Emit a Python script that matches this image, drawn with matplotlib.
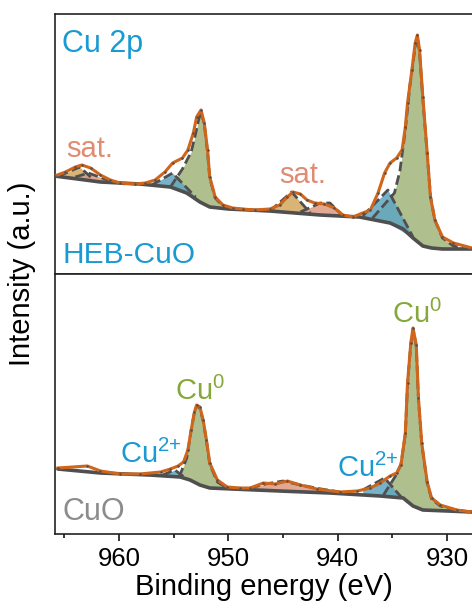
import numpy as np
import matplotlib
matplotlib.use('Agg')
import matplotlib.pyplot as plt

plt.rcParams['font.family'] = ['Liberation Sans', 'DejaVu Sans']
plt.rcParams['mathtext.fontset'] = 'custom'
plt.rcParams['mathtext.rm'] = 'Liberation Sans'
plt.rcParams['mathtext.default'] = 'regular'

# ---- HEB-CuO (top) : intensity in arbitrary units ----
heb_E = [965.9, 964.9, 964.0, 963.4, 962.6, 961.7, 960.8, 959.9, 958.5, 957.6, 956.7,
         955.8, 955.1, 954.2, 953.7, 953.2, 952.9, 952.5, 952.2, 951.9, 951.7, 951.2,
         950.5, 949.6, 948.7, 947.6, 946.2, 945.3, 944.6, 944.1, 943.4, 942.8, 942.1,
         941.2, 940.3, 939.5, 938.6, 937.7, 937.0, 936.3, 935.7, 935.2, 934.6, 934.1,
         933.8, 933.6, 933.2, 932.9, 932.7, 932.5, 932.2, 931.8, 931.5, 931.1, 930.4,
         929.4, 927.7]
heb_I = [98, 102, 107, 109, 106, 99, 94, 91, 90, 91, 94,
         102, 111, 116, 124, 141, 157, 164, 151, 124, 97, 77,
         69, 66, 65, 64, 65, 69, 77, 82, 80, 74, 71,
         70, 66, 59, 57, 61, 64, 81, 101, 111, 116, 124,
         147, 171, 204, 231, 239, 224, 177, 121, 77, 54, 37,
         31, 26]
heb_bg_E = [965.9, 961.7, 958.1, 955.3, 953.8, 952.6, 951.7, 950.0, 946.2, 941.6,
            938.0, 935.2, 934.0, 933.1, 932.2, 931.4, 930.4, 927.7]
heb_bg_I = [98, 92, 90, 87, 81, 72, 67, 65, 63, 59, 57, 51, 45, 36, 28, 26, 25, 25]

# fitted components (drawn in this order)
heb_peaks = {
    'sat1_y': ([965.5, 963.6, 962.5], [98, 107, 96]),
    'sat1_p': ([964.0, 962.8, 960.8, 959.5], [97, 101, 93, 90]),
    'cu0_1': ([955.3, 954.2, 953.4, 953.0, 952.7, 952.5, 952.2, 951.9, 951.7, 951.2,
               950.5, 949.6], [87, 105, 122, 140, 155, 162, 150, 122, 96, 76, 68, 65]),
    'cu2_1': ([957.0, 955.1, 953.0], [89, 101, 77]),
    'sat2_y': ([946.2, 944.2, 942.5], [63, 82, 61]),
    'sat2_p': ([943.4, 941.6, 940.7, 939.5], [62, 71, 71, 58]),
    'cu0_2': ([936.8, 934.8, 934.3, 933.8, 933.4, 932.9, 932.7, 932.5, 932.2, 931.8,
               931.5, 931.1, 930.4, 929.4, 928.5], [56, 81, 103, 144, 187, 227, 237, 222,
                                                    175, 120, 78, 54, 36, 28, 26]),
    'cu2_2': ([937.7, 935.4, 933.1], [58, 84, 37]),
}

# ---- CuO (bottom) ----
cuo_E = [965.6, 962.9, 961.7, 959.9, 958.1, 956.2, 955.3, 954.6, 954.1, 953.7, 953.4,
         953.1, 952.9, 952.6, 952.3, 952.0, 951.7, 951.0, 950.1, 948.9, 948.0, 946.8,
         945.7, 944.6, 943.4, 941.9, 939.8, 938.2, 937.0, 936.1, 935.2, 934.6, 934.2,
         933.8, 933.6, 933.3, 933.1, 932.8, 932.6, 932.3, 931.8, 931.4, 930.6, 929.1,
         927.7]
cuo_I = [66, 68, 63, 60, 60, 62, 65, 68, 72, 84, 104,
         122, 129, 127, 114, 94, 71, 54, 47, 46, 46, 51,
         50, 53, 49, 45, 42, 43, 46, 51, 58, 61, 69,
         101, 151, 191, 206, 189, 136, 91, 52, 36, 29, 24,
         22]
cuo_bg_E = [965.6, 961.7, 957.2, 954.4, 953.5, 952.6, 951.7, 949.6, 945.3, 940.7,
            936.1, 934.0, 933.1, 932.2, 927.7]
cuo_bg_I = [65, 61, 59, 57, 54, 49, 46, 45, 43, 41, 38, 36, 28, 24, 22]

cuo_peaks = {
    'cu0_1': ([954.5, 953.8, 953.4, 953.1, 952.9, 952.6, 952.3, 952.0, 951.7, 951.0,
               950.1, 949.0], [57, 76, 104, 122, 128, 126, 113, 93, 70, 52, 46, 45]),
    'cu2_1': ([956.0, 954.9, 953.8], [59, 64, 55]),
    'sat_p': ([948.0, 946.6, 945.0, 943.4, 941.5, 939.8], [46, 50, 53, 49, 45, 42]),
    'cu0_2': ([935.8, 934.7, 934.2, 933.8, 933.6, 933.3, 933.1, 932.8, 932.6, 932.3,
               931.8, 931.4, 930.6, 929.1, 927.9], [39, 58, 70, 100, 150, 190, 205, 188,
                                                    135, 90, 51, 35, 28, 24, 22]),
    'cu2_2': ([937.7, 935.7, 934.1], [44, 56, 36]),
}

fill_col = {'sat1_y': '#d2a85c', 'sat1_p': '#dc9a82', 'cu2_1': '#5ea6c2',
            'cu0_1': '#a3b47a', 'sat2_y': '#d2a85c', 'sat2_p': '#dc9a82',
            'cu0_2': '#a3b47a', 'cu2_2': '#5ea6c2', 'sat_p': '#dc9a82'}

orange = '#d0651c'
dark = '#4f4f4f'


def draw(ax, E, I, bgE, bgI, peaks):
    bgE = np.array(bgE)[::-1]
    bgI = np.array(bgI)[::-1]
    for key, (pe, pi) in peaks.items():
        pe = np.array(pe)
        base = np.interp(pe, bgE, bgI)
        ax.fill_between(pe, base, pi, color=fill_col[key], alpha=0.85, lw=0, zorder=2)
        ax.plot(pe, pi, ls=(0, (3.5, 1.5)), color=dark, lw=2, zorder=3)
    ax.plot(bgE, bgI, color=dark, lw=2.6, zorder=4, solid_capstyle='round')
    ax.plot(E, I, color=orange, lw=2.2, zorder=5)
    ax.plot(E, I, 'o', color=dark, ms=1.8, mew=0, zorder=6)


fig = plt.figure(figsize=(4.72, 6.10), dpi=100)
ax1 = fig.add_axes([55 / 472, (610 - 274) / 610, 417 / 472, 260 / 610])
ax2 = fig.add_axes([55 / 472, (610 - 534) / 610, 417 / 472, 260 / 610])

draw(ax1, heb_E, heb_I, heb_bg_E, heb_bg_I, heb_peaks)
draw(ax2, cuo_E, cuo_I, cuo_bg_E, cuo_bg_I, cuo_peaks)

for ax in (ax1, ax2):
    ax.set_xlim(965.86, 927.7)
    ax.set_ylim(0, 260)
    ax.set_yticks([])
    ax.spines['right'].set_visible(False)
    for s in ('left', 'top', 'bottom'):
        ax.spines[s].set_linewidth(1.2)
        ax.spines[s].set_color('#222222')

ax1.set_xticks([])
ax2.set_xticks([960, 950, 940, 930])
ax2.set_xticks([965, 955, 945, 935], minor=True)
ax2.tick_params(axis='x', which='major', direction='out', length=5, width=1.1,
                labelsize=18.5, pad=4)
ax2.tick_params(axis='x', which='minor', direction='out', length=3, width=1.1)
ax2.set_xlabel('Binding energy (eV)', fontsize=21, labelpad=2)
fig.text(22 / 472, (610 - 274) / 610, 'Intensity (a.u.)', rotation=90, fontsize=21,
         ha='center', va='center')

blue = '#1a9ad2'
salmon = '#e08c73'
olive = '#86a83a'
ax1.text(965.2, 222, 'Cu 2p', fontsize=22, color=blue, ha='left', va='baseline')
ax1.text(965.2, 11, 'HEB-CuO', fontsize=21.5, color=blue, ha='left', va='baseline')
ax1.text(964.85, 117, 'sat.', fontsize=21, color=salmon, ha='left', va='baseline')
ax1.text(945.3, 91, 'sat.', fontsize=21, color=salmon, ha='left', va='baseline')
ax2.text(954.9, 134, 'Cu$^0$', fontsize=21, color=olive, ha='left', va='baseline')
ax2.text(935.0, 211, 'Cu$^0$', fontsize=21, color=olive, ha='left', va='baseline')
ax2.text(959.9, 71, 'Cu$^{2{+}}$', fontsize=21, color=blue, ha='left', va='baseline')
ax2.text(940.05, 57, 'Cu$^{2{+}}$', fontsize=21, color=blue, ha='left', va='baseline')
ax2.text(965.2, 14, 'CuO', fontsize=22, color='#8c8c8c', ha='left', va='baseline')

fig.savefig('out.png', dpi=100)
